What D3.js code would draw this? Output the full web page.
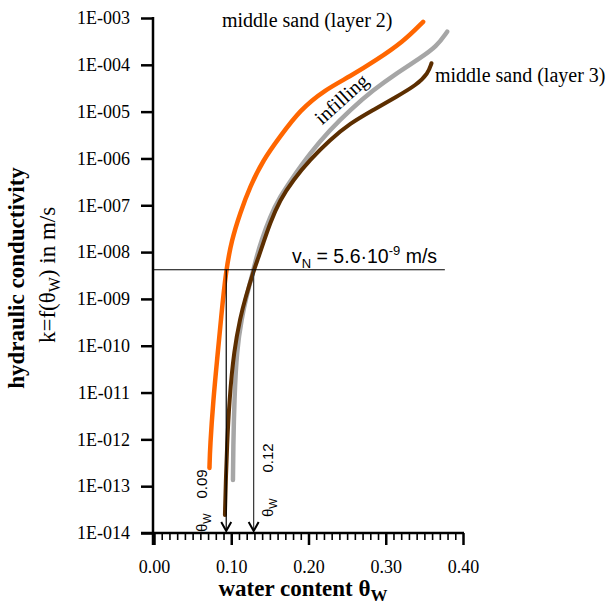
<!DOCTYPE html>
<html><head><meta charset="utf-8">
<script src="https://cdn.jsdelivr.net/npm/d3@7"></script>
<style>body{margin:0;background:#fff}svg{display:block}</style>
</head><body><svg id="c" width="610" height="607"></svg>
<script>
// ---- data ----
const yTickValues = [1e-3,1e-4,1e-5,1e-6,1e-7,1e-8,1e-9,1e-10,1e-11,1e-12,1e-13,1e-14];
const yTickLabels = ["1E-003","1E-004","1E-005","1E-006","1E-007","1E-008","1E-009","1E-010","1E-011","1E-012","1E-013","1E-014"];
const xTickValues = [0,0.1,0.2,0.3,0.4];
const xTickLabels = ["0.00","0.10","0.20","0.30","0.40"];
const xMinorTicks = [0.01,0.02,0.03,0.04,0.05,0.06,0.07,0.08,0.09,0.11,0.12,0.13,0.14,0.15,0.16,0.17,0.18,0.19,0.21,0.22,0.23,0.24,0.25,0.26,0.27,0.28,0.29,0.31,0.32,0.33,0.34,0.35,0.36,0.37,0.38,0.39];

// middle sand (layer 2)
const thetaLayer2 = [0.3484,0.3225,0.2881,0.2536,0.2210,0.1889,0.1630,0.1414,0.1242,0.1113,0.1005,0.0931,0.0870,0.0817,0.0767,0.0726,0.0718];
const kLayer2     = [8.3e-4,3.1e-4,1.27e-4,5.6e-5,2.9e-5,1.08e-5,2.9e-6,9.3e-7,2.5e-7,6.7e-8,1.8e-8,4.0e-9,4.2e-10,5.0e-11,6.9e-12,7.0e-13,2.45e-13];
// infilling
const thetaInfill = [0.3795,0.3657,0.3441,0.3140,0.2837,0.2536,0.2277,0.2018,0.1802,0.1630,0.1501,0.1393,0.1328,0.1285,0.1185,0.1140,0.1070,0.1040,0.1026,0.1022];
const kInfill     = [5.1e-4,2.44e-4,1.38e-4,6.6e-5,2.9e-5,1.08e-5,4.06e-6,1.29e-6,4.07e-7,1.52e-7,5.7e-8,1.8e-8,8.0e-9,4.0e-9,9.5e-10,4.2e-10,8.1e-11,6.9e-12,7.0e-13,1.35e-13];
// middle sand (layer 3)
const thetaLayer3 = [0.3592,0.3549,0.3398,0.3140,0.2837,0.2536,0.2277,0.2018,0.1802,0.1630,0.1501,0.1414,0.1349,0.1294,0.1175,0.1120,0.1035,0.0975,0.0945,0.0930,0.0918];
const kLayer3     = [1.08e-4,6.6e-5,3.7e-5,2.09e-5,1.08e-5,5.6e-6,2.48e-6,9.3e-7,3.47e-7,1.30e-7,4.1e-8,1.54e-8,7.4e-9,4.2e-9,9.5e-10,4.2e-10,8.1e-11,6.9e-12,7.0e-13,1.35e-13,2.43e-14];

// reference flow velocity line and read-off water contents
const vN = 4.2e-9;
const vNLineEnd = 0.3765;
const arrowTheta = [0.0935, 0.129];
const arrowLabels = ["0.09", "0.12"];

// ---- chart ----
const svg = d3.select("#c");
const x = d3.scaleLinear().domain([0,0.4]).range([154,463]);
const y = d3.scaleLog().domain([1e-14,1e-3]).range([533,18]);
const serif = "'Liberation Serif','Times New Roman',serif";
const sans = "'Liberation Sans',Arial,sans-serif";

// y axis
const ya = svg.append("g").attr("transform","translate(153,0)")
  .call(d3.axisLeft(y).tickValues(yTickValues).tickFormat((d,i)=>yTickLabels[i]).tickSize(12).tickPadding(11));
ya.select(".domain").remove();
ya.selectAll(".tick line").attr("stroke","#000").attr("stroke-width",2.5);
ya.selectAll(".tick text").attr("font-family",serif).attr("font-size",18).attr("fill","#000");
svg.append("line").attr("x1",153).attr("x2",153).attr("y1",y(1e-3)-1).attr("y2",545)
  .attr("stroke","#000").attr("stroke-width",2.5);

// x axis
const xaMinor = svg.append("g").attr("transform","translate(0,533)")
  .call(d3.axisBottom(x).tickValues(xMinorTicks).tickSize(7).tickFormat(""));
xaMinor.select(".domain").remove();
xaMinor.selectAll(".tick line").attr("stroke","#000").attr("stroke-width",1.6);
const xa = svg.append("g").attr("transform","translate(0,533)")
  .call(d3.axisBottom(x).tickValues(xTickValues).tickFormat((d,i)=>xTickLabels[i]).tickSize(12).tickPadding(15));
xa.select(".domain").remove();
xa.selectAll(".tick line").attr("stroke","#000").attr("stroke-width",2.5);
xa.selectAll(".tick text").attr("font-family",serif).attr("font-size",18).attr("fill","#000");
svg.append("line").attr("x1",141).attr("x2",x(0.4)+1).attr("y1",533).attr("y2",533)
  .attr("stroke","#000").attr("stroke-width",2.5);

// curves
const line = d3.line().x(d=>x(d[0])).y(d=>y(d[1])).curve(d3.curveBasis);
const series = [
  {t:thetaInfill, k:kInfill, c:"#a6a6a6", w:4.5},
  {t:thetaLayer3, k:kLayer3, c:"#5c2e00", w:4},
  {t:thetaLayer2, k:kLayer2, c:"#ff6600", w:4.5}
];
series.forEach(s=>{
  svg.append("path").datum(s.t.map((t,i)=>[t,s.k[i]]))
    .attr("d",line).attr("fill","none").attr("stroke",s.c)
    .attr("stroke-width",s.w).attr("stroke-linecap","round").attr("stroke-linejoin","round");
});

// vN horizontal line
svg.append("line").attr("x1",153).attr("x2",x(vNLineEnd)).attr("y1",y(vN)).attr("y2",y(vN))
  .attr("stroke","#000").attr("stroke-width",1.2);
const vt = svg.append("text").attr("x",292).attr("y",263).attr("font-family",sans).attr("font-size",19.5).attr("fill","#000");
vt.append("tspan").text("v");
vt.append("tspan").attr("font-size",13).attr("dy",5).text("N");
vt.append("tspan").attr("dy",-5).text(" = 5.6·10");
vt.append("tspan").attr("font-size",13).attr("dy",-8).text("-9");
vt.append("tspan").attr("dy",8).text(" m/s");

// arrows
arrowTheta.forEach((t,i)=>{
  const ax = x(t);
  svg.append("line").attr("x1",ax).attr("x2",ax).attr("y1",y(vN)).attr("y2",531)
    .attr("stroke", i===0 ? "#000" : "#333").attr("stroke-width",1.2);
  svg.append("path").attr("d",`M${ax-5},${522} L${ax},${531} L${ax+5},${522}`)
    .attr("fill","none").attr("stroke","#000").attr("stroke-width",2);
  const lx = ax + (i===0 ? -19 : 19);
  svg.append("text").attr("transform",`translate(${lx},${i===0?484:458}) rotate(-90)`)
    .attr("text-anchor","middle").attr("font-family",sans).attr("font-size",15).attr("fill","#000")
    .text(arrowLabels[i]);
  const th = svg.append("text").attr("transform",`translate(${lx},${i===0?532:517}) rotate(-90)`)
    .attr("font-family",sans).attr("font-size",15).attr("fill","#000");
  th.append("tspan").text("θ");
  th.append("tspan").attr("font-size",11).attr("dy",4).text("W");
});

// series labels
svg.append("text").attr("x",222).attr("y",27).attr("font-family",serif).attr("font-size",20).attr("fill","#000").text("middle sand (layer 2)");
svg.append("text").attr("x",435).attr("y",82).attr("font-family",serif).attr("font-size",20).attr("fill","#000").text("middle sand (layer 3)");
svg.append("text").attr("transform","translate(346,104) rotate(-42)").attr("text-anchor","middle")
  .attr("font-family",serif).attr("font-size",20).attr("fill","#000").text("infilling");

// axis titles
const xt = svg.append("text").attr("x",303).attr("y",596).attr("text-anchor","middle")
  .attr("font-family",serif).attr("font-size",23).attr("font-weight","bold").attr("fill","#000");
xt.append("tspan").text("water content θ");
xt.append("tspan").attr("font-size",17).attr("dy",5).text("W");

svg.append("text").attr("transform","translate(24,278) rotate(-90)").attr("text-anchor","middle")
  .attr("font-family",serif).attr("font-size",23).attr("font-weight","bold").attr("fill","#000")
  .text("hydraulic conductivity");
const yt2 = svg.append("text").attr("transform","translate(55,275) rotate(-90)").attr("text-anchor","middle")
  .attr("font-family",serif).attr("font-size",23).attr("fill","#000");
yt2.append("tspan").text("k=f(θ");
yt2.append("tspan").attr("font-size",16).attr("dy",5).text("W");
yt2.append("tspan").attr("dy",-5).text(") in m/s");
</script>
</body></html>
